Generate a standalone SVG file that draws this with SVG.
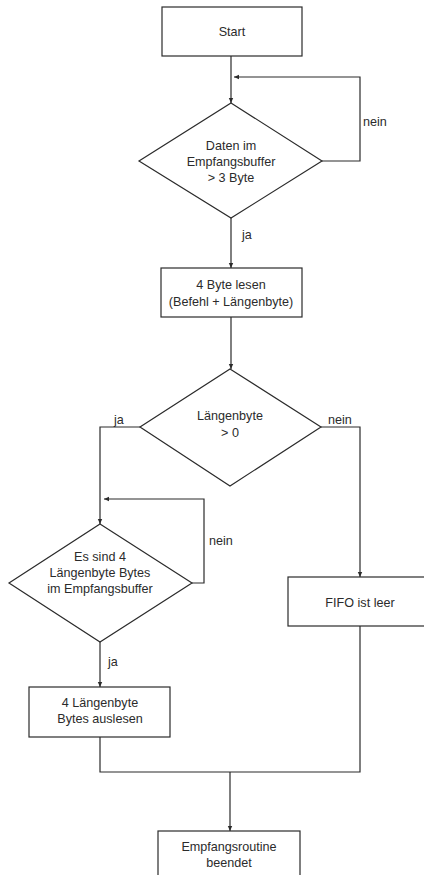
<svg xmlns="http://www.w3.org/2000/svg" width="424" height="875" viewBox="0 0 424 875">
<defs>
<marker id="ah" markerUnits="userSpaceOnUse" markerWidth="6" markerHeight="6" refX="5" refY="3" orient="auto">
<path d="M0,0.8 L5,3 L0,5.2 Z" fill="#2b2b2b"/>
</marker>
<style>
.shape{fill:#fff;stroke:#2b2b2b;stroke-width:1.2}
.conn{fill:none;stroke:#2b2b2b;stroke-width:1.2}
text{font-family:"Liberation Sans",Arial,sans-serif;font-size:12.6px;fill:#2b2b2b}
.c{text-anchor:middle}
</style>
</defs>
<rect width="424" height="875" fill="#fff"/>
<g id="connectors">
<polyline class="conn" points="231,56 231,103" marker-end="url(#ah)"/>
<polyline class="conn" points="322,161 360,161 360,77 234,77" marker-end="url(#ah)"/>
<polyline class="conn" points="231,218 231,268" marker-end="url(#ah)"/>
<polyline class="conn" points="231,317 231,369" marker-end="url(#ah)"/>
<polyline class="conn" points="140,427 100,427 100,524" marker-end="url(#ah)"/>
<polyline class="conn" points="321,427 360,427 360,577" marker-end="url(#ah)"/>
<polyline class="conn" points="192,583 204,583 204,499 104,499" marker-end="url(#ah)"/>
<polyline class="conn" points="100,642 100,687" marker-end="url(#ah)"/>
<polyline class="conn" points="100,737 100,772 360,772 360,626"/>
<polyline class="conn" points="230,772 230,831" marker-end="url(#ah)"/>
<text x="363" y="126">nein</text>
<text x="242" y="239">ja</text>
<text x="114" y="424">ja</text>
<text x="328" y="424">nein</text>
<text x="209" y="545">nein</text>
<text x="108" y="666">ja</text>
</g>
<g id="start">
<rect class="shape" x="162" y="7" width="140" height="49"/>
<text class="c" x="232" y="36">Start</text>
</g>
<g id="check-buffer">
<polygon class="shape" points="231,103 322,161 231,218 139,161"/>
<text class="c" x="231" y="150">Daten im</text>
<text class="c" x="231" y="166">Empfangsbuffer</text>
<text class="c" x="231" y="182">&gt; 3 Byte</text>
</g>
<g id="read-4-bytes">
<rect class="shape" x="161" y="268" width="141" height="49"/>
<text class="c" x="231" y="289">4 Byte lesen</text>
<text class="c" x="231" y="306">(Befehl + Längenbyte)</text>
</g>
<g id="check-length">
<polygon class="shape" points="230,369 321,427 230,486 140,427"/>
<text class="c" x="230" y="420">Längenbyte</text>
<text class="c" x="230" y="437">&gt; 0</text>
</g>
<g id="check-bytes">
<polygon class="shape" points="100,524 192,583 100,642 9,583"/>
<text class="c" x="100" y="561">Es sind 4</text>
<text class="c" x="100" y="577">Längenbyte Bytes</text>
<text class="c" x="100" y="593">im Empfangsbuffer</text>
</g>
<g id="read-bytes">
<rect class="shape" x="29" y="687" width="141" height="50"/>
<text class="c" x="100" y="707">4 Längenbyte</text>
<text class="c" x="100" y="723">Bytes auslesen</text>
</g>
<g id="fifo-empty">
<rect class="shape" x="288" y="577" width="144" height="49"/>
<text class="c" x="360" y="607">FIFO ist leer</text>
</g>
<g id="end">
<rect class="shape" x="158" y="831" width="142" height="50"/>
<text class="c" x="229" y="851">Empfangsroutine</text>
<text class="c" x="229" y="867">beendet</text>
</g>
</svg>
